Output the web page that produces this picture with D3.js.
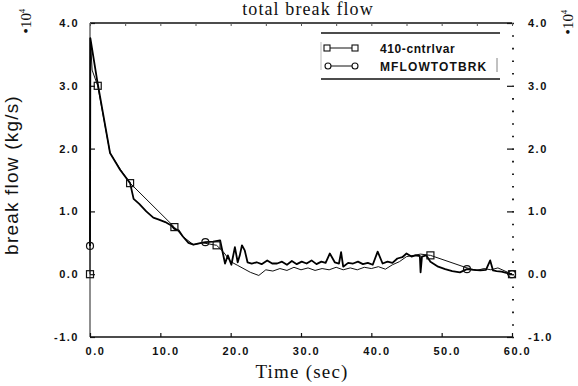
<!DOCTYPE html>
<html><head><meta charset="utf-8">
<script src="https://cdn.jsdelivr.net/npm/d3@7"></script>
<style>
html,body{margin:0;padding:0;background:#fff;}
svg{display:block;}
</style></head>
<body>
<svg id="c" width="578" height="386"></svg>
<script>
// ---- data ----
const chartTitle = "total break flow";
const xLabel = "Time (sec)";
const yLabel = "break flow (kg/s)";
const seriesNames = ["410-cntrlvar", "MFLOWTOTBRK"];
const xTicks = [0, 10, 20, 30, 40, 50, 60];
const xTickLabels = ["0.0", "10.0", "20.0", "30.0", "40.0", "50.0", "60.0"];
const yTicks = [-1, 0, 1, 2, 3, 4];
const yTickLabels = ["-1.0", "0.0", "1.0", "2.0", "3.0", "4.0"];

const time1 = [0, 0.05, 0.3, 1.1, 2.85, 4.3, 5.7, 12.0, 13.2, 14.7, 16.0, 18.0, 19.0, 20.0, 21.0, 22.8, 24.0, 25, 26, 27, 28, 29, 30, 31, 32, 33, 34, 35, 36, 37, 38, 39, 40, 41, 42, 43, 44, 45, 46, 47, 48.4, 53.6, 55, 56, 57, 58, 59, 60];
const value1 = [0.0, 3.76, 3.25, 3.0, 1.93, 1.67, 1.45, 0.75, 0.6, 0.47, 0.5, 0.46, 0.35, 0.2, 0.14, 0.03, -0.02, 0.07, 0.05, 0.09, 0.06, 0.11, 0.07, 0.1, 0.06, 0.09, 0.07, 0.11, 0.07, 0.1, 0.07, 0.11, 0.09, 0.12, 0.08, 0.15, 0.2, 0.28, 0.3, 0.32, 0.3, 0.1, 0.06, 0.09, 0.07, 0.1, 0.05, 0.0];

const time2 = [0, 0.05, 1.0, 2.85, 4.3, 5.7, 6.2, 7.0, 8.0, 9.0, 9.8, 10.7, 11.5, 12.0, 12.6, 13.2, 14.0, 14.7, 15.5, 16.4, 17.5, 18.5, 19.2, 19.6, 20.1, 20.6, 21.0, 21.3, 21.6, 22.0, 22.4, 23.0, 23.7, 24.4, 25.2, 25.9, 26.6, 27.3, 28.0, 28.7, 29.4, 30.1, 30.8, 31.5, 32.2, 32.9, 33.5, 34.1, 34.8, 35.4, 35.7, 36.0, 36.7, 37.4, 38.1, 38.8, 39.5, 40.2, 40.9, 41.6, 42.3, 43.0, 43.7, 44.4, 45.0, 45.7, 46.3, 46.9, 47.0, 47.2, 47.8, 48.4, 49.5, 50.5, 51.5, 52.6, 53.6, 54.5, 55.5, 56.3, 56.9, 57.3, 57.8, 58.5, 59.2, 60.0];
const value2 = [0.45, 3.76, 3.1, 1.93, 1.66, 1.45, 1.2, 1.12, 1.0, 0.9, 0.87, 0.83, 0.78, 0.72, 0.7, 0.6, 0.5, 0.47, 0.49, 0.51, 0.52, 0.54, 0.17, 0.3, 0.15, 0.43, 0.19, 0.3, 0.46, 0.38, 0.19, 0.17, 0.19, 0.16, 0.22, 0.17, 0.17, 0.2, 0.15, 0.21, 0.16, 0.2, 0.17, 0.22, 0.16, 0.2, 0.18, 0.33, 0.19, 0.17, 0.35, 0.12, 0.18, 0.17, 0.2, 0.16, 0.18, 0.15, 0.36, 0.17, 0.2, 0.18, 0.25, 0.27, 0.33, 0.28, 0.3, 0.29, 0.03, 0.28, 0.3, 0.2, 0.12, 0.08, 0.05, 0.03, 0.08, 0.07, 0.06, 0.07, 0.22, 0.06, 0.05, 0.04, 0.02, 0.0];

const markerTimes1 = [0, 1.1, 5.7, 12.0, 18.0, 48.4, 60];
const markerTimes2 = [0, 16.4, 53.6, 60.0];

// ---- drawing ----
const svg = d3.select("#c");
const X0 = 90, X1 = 512, Y0 = 337, Y1 = 23;
const x = d3.scaleLinear().domain([0, 60]).range([X0, X1]);
const y = d3.scaleLinear().domain([-1, 4]).range([Y0, Y1]);

const tickFont = "'Liberation Sans', Arial, sans-serif";
const serif = "'Liberation Serif', 'Times New Roman', serif";

function styleAxis(g) {
  g.select(".domain").remove();
  g.selectAll(".tick line").attr("stroke", "#111").attr("stroke-width", 1.2);
  g.selectAll(".tick text").attr("fill", "#111").attr("font-family", tickFont)
    .attr("font-size", 11).attr("font-weight", "bold").attr("letter-spacing", 1.5);
}

// frame lines
svg.append("line").attr("x1", X0).attr("x2", X1).attr("y1", Y1).attr("y2", Y1).attr("stroke", "#111").attr("stroke-width", 1.6);
svg.append("line").attr("x1", X0).attr("x2", X1).attr("y1", Y0).attr("y2", Y0).attr("stroke", "#111").attr("stroke-width", 1.6);
svg.append("line").attr("x1", X0).attr("x2", X0).attr("y1", Y1).attr("y2", Y0).attr("stroke", "#333").attr("stroke-width", 1.1);

// left axis
svg.append("g").attr("transform", `translate(${X0},0)`)
  .call(d3.axisLeft(y).tickValues(yTicks).tickSize(-5).tickPadding(11)
    .tickFormat((d, i) => yTickLabels[i]))
  .call(styleAxis);

// right axis: minor dots + major ticks
svg.append("g").attr("transform", `translate(${X1},0)`)
  .call(d3.axisRight(y).tickValues(d3.range(-1, 4.001, 0.2)).tickSize(2).tickFormat(""))
  .call(g => { g.select(".domain").remove(); g.selectAll(".tick line").attr("stroke", "#222").attr("stroke-width", 1.6); });
svg.append("g").attr("transform", `translate(${X1},0)`)
  .call(d3.axisRight(y).tickValues(yTicks).tickSize(-5).tickPadding(16)
    .tickFormat((d, i) => yTickLabels[i]))
  .call(styleAxis);

// bottom axis
svg.append("g").attr("transform", `translate(0,${Y0})`)
  .call(d3.axisBottom(x).tickValues(xTicks).tickSize(-4).tickPadding(10)
    .tickFormat((d, i) => xTickLabels[i]))
  .call(styleAxis)
  .call(g => g.selectAll(".tick text").attr("dx", 5));

// top axis minor ticks
svg.append("g").attr("transform", `translate(0,${Y1})`)
  .call(d3.axisTop(x).tickValues(d3.range(0, 60.001, 5)).tickSize(-3).tickFormat(""))
  .call(g => { g.select(".domain").remove(); g.selectAll(".tick line").attr("stroke", "#555").attr("stroke-width", 1); });

// series
const data1 = time1.map((t, i) => ({ t, v: value1[i] }));
const data2 = time2.map((t, i) => ({ t, v: value2[i] }));
const line = d3.line().x(d => x(d.t)).y(d => y(d.v));

svg.append("path").datum(data1).attr("d", line)
  .attr("fill", "none").attr("stroke", "#111").attr("stroke-width", 1.0).attr("stroke-linejoin", "round");
svg.append("path").datum(data2).attr("d", line)
  .attr("fill", "none").attr("stroke", "#000").attr("stroke-width", 1.8).attr("stroke-linejoin", "round");

const m1 = data1.filter(d => markerTimes1.includes(d.t));
const m2 = data2.filter(d => markerTimes2.includes(d.t));
svg.selectAll("rect.m1").data(m1).join("rect").attr("class", "m1")
  .attr("x", d => x(d.t) - 3.5).attr("y", d => y(d.v) - 3.5).attr("width", 7).attr("height", 7)
  .attr("fill", "none").attr("stroke", "#111").attr("stroke-width", 1.2);
svg.selectAll("circle.m2").data(m2).join("circle").attr("class", "m2")
  .attr("cx", d => x(d.t)).attr("cy", d => y(d.v)).attr("r", 3.5)
  .attr("fill", "none").attr("stroke", "#111").attr("stroke-width", 1.2);

// legend
const lg = svg.append("g");
lg.append("line").attr("x1", 321).attr("x2", 500).attr("y1", 33).attr("y2", 33).attr("stroke", "#111").attr("stroke-width", 1.3);
lg.append("line").attr("x1", 321).attr("x2", 500).attr("y1", 79).attr("y2", 79).attr("stroke", "#111").attr("stroke-width", 1.3);
lg.append("line").attr("x1", 321).attr("x2", 321).attr("y1", 42).attr("y2", 70).attr("stroke", "#aaa").attr("stroke-width", 0.8);
lg.append("line").attr("x1", 497).attr("x2", 497).attr("y1", 58).attr("y2", 72).attr("stroke", "#666").attr("stroke-width", 0.8);
const rows = [48, 66];
seriesNames.forEach((name, i) => {
  const yy = rows[i];
  lg.append("line").attr("x1", 327).attr("x2", 354).attr("y1", yy).attr("y2", yy).attr("stroke", "#111").attr("stroke-width", 1);
  if (i === 0) {
    lg.append("rect").attr("x", 324).attr("y", yy - 3).attr("width", 6).attr("height", 6).attr("fill", "#fff").attr("stroke", "#111").attr("stroke-width", 1.1);
    lg.append("rect").attr("x", 352).attr("y", yy - 3).attr("width", 6).attr("height", 6).attr("fill", "#fff").attr("stroke", "#111").attr("stroke-width", 1.1);
  } else {
    lg.append("circle").attr("cx", 328).attr("cy", yy).attr("r", 3).attr("fill", "#fff").attr("stroke", "#111").attr("stroke-width", 1.1);
    lg.append("circle").attr("cx", 355).attr("cy", yy).attr("r", 3).attr("fill", "#fff").attr("stroke", "#111").attr("stroke-width", 1.1);
  }
  lg.append("text").attr("x", 380).attr("y", yy + 4.5).text(name)
    .attr("font-family", tickFont).attr("font-size", 12).attr("font-weight", "bold")
    .attr("letter-spacing", i === 0 ? 0.6 : 1.1).attr("fill", "#111");
});

// titles
svg.append("text").attr("x", 308).attr("y", 15).attr("text-anchor", "middle")
  .attr("font-family", serif).attr("font-size", 18).attr("letter-spacing", 1.1).attr("fill", "#111").text(chartTitle);
svg.append("text").attr("x", 302).attr("y", 378).attr("text-anchor", "middle")
  .attr("font-family", serif).attr("font-size", 19).attr("letter-spacing", 1.2).attr("fill", "#111").text(xLabel);
svg.append("text").attr("transform", "translate(18,175) rotate(-90)").attr("text-anchor", "middle")
  .attr("font-family", tickFont).attr("font-size", 19).attr("letter-spacing", 1.2).attr("fill", "#111").text(yLabel);

// multiplier labels
function mult(cx, cy) {
  const t = svg.append("text").attr("transform", `translate(${cx},${cy}) rotate(-90)`).attr("text-anchor", "middle")
    .attr("font-family", serif).attr("font-size", 15).attr("fill", "#111");
  t.append("tspan").text("\u2022");
  t.append("tspan").text("10");
  t.append("tspan").attr("dy", -6).attr("font-size", 9).text("4");
}
mult(31, 21);
mult(573, 22);
</script>
</body></html>
